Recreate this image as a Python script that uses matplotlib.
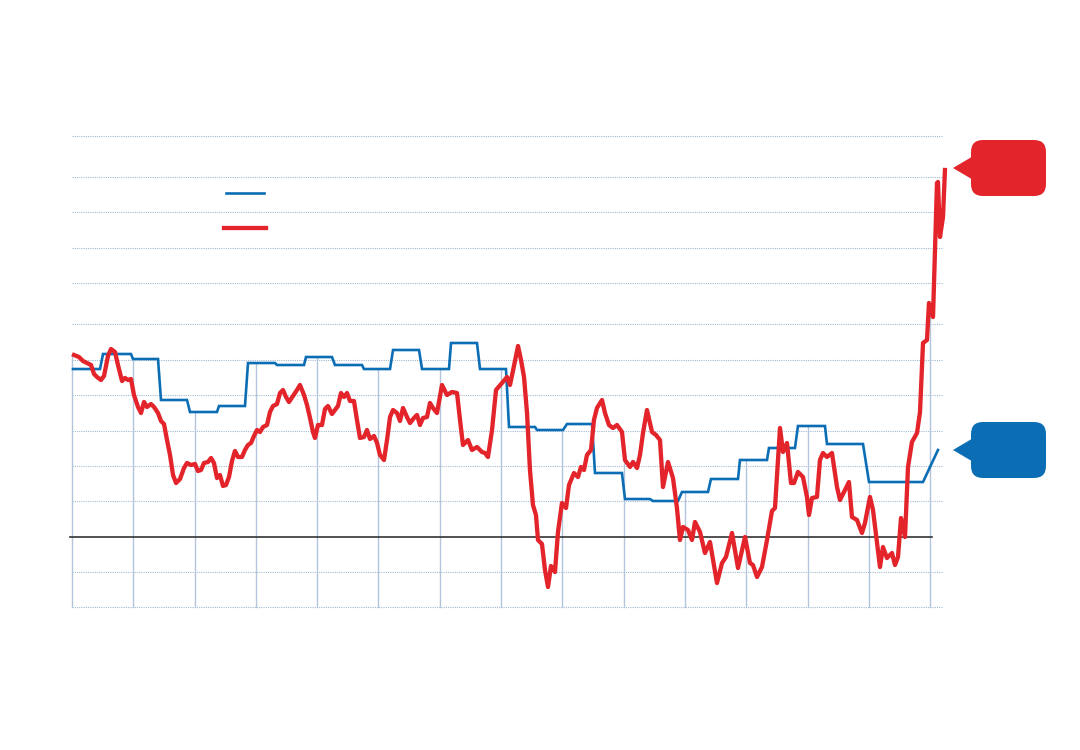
import numpy as np
import matplotlib
matplotlib.use("Agg")
import matplotlib.pyplot as plt
from matplotlib.patches import FancyBboxPatch, Polygon
from matplotlib.transforms import IdentityTransform

####### DATA BLOCK #######

# red series (time in years from start, value)
red_t = [0.033, 0.114, 0.179, 0.245, 0.310, 0.359, 0.408, 0.473, 0.522, 0.587,
         0.636, 0.701, 0.750, 0.816, 0.865, 0.914, 0.962, 1.011, 1.077, 1.126,
         1.175, 1.223, 1.289, 1.338, 1.403, 1.452, 1.501, 1.550, 1.599, 1.648,
         1.697, 1.762, 1.827, 1.876, 1.941, 2.007, 2.055, 2.104, 2.153, 2.219,
         2.268, 2.316, 2.365, 2.414, 2.463, 2.512, 2.561, 2.610, 2.659, 2.708,
         2.773, 2.822, 2.871, 2.920, 2.969, 3.018, 3.067, 3.116, 3.181, 3.230,
         3.279, 3.344, 3.393, 3.442, 3.491, 3.540, 3.605, 3.670, 3.719, 3.785,
         3.834, 3.883, 3.931, 3.964, 4.013, 4.078, 4.127, 4.176, 4.241, 4.290,
         4.339, 4.388, 4.437, 4.486, 4.535, 4.600, 4.649, 4.698, 4.763, 4.812,
         4.861, 4.927, 4.976, 5.024, 5.090, 5.139, 5.188, 5.237, 5.302, 5.351,
         5.400, 5.465, 5.514, 5.579, 5.628, 5.677, 5.726, 5.791, 5.840, 5.889,
         5.954, 6.036, 6.117, 6.199, 6.281, 6.330, 6.378, 6.460, 6.525, 6.607,
         6.688, 6.737, 6.786, 6.852, 6.917, 7.015, 7.096, 7.145, 7.210, 7.276,
         7.325, 7.374, 7.423, 7.471, 7.520, 7.569, 7.602, 7.667, 7.716, 7.765,
         7.814, 7.879, 7.928, 7.993, 8.059, 8.108, 8.189, 8.254, 8.303, 8.352,
         8.401, 8.467, 8.515, 8.564, 8.646, 8.695, 8.760, 8.825, 8.891, 8.972,
         9.021, 9.103, 9.152, 9.217, 9.266, 9.315, 9.380, 9.462, 9.527, 9.592,
         9.641, 9.723, 9.804, 9.869, 9.918, 9.967, 10.049, 10.114, 10.163, 10.245,
         10.326, 10.408, 10.522, 10.604, 10.669, 10.767, 10.865, 10.979, 11.060, 11.109,
         11.175, 11.256, 11.338, 11.419, 11.468, 11.517, 11.550, 11.599, 11.664, 11.729,
         11.778, 11.843, 11.925, 11.990, 12.023, 12.072, 12.153, 12.202, 12.251, 12.316,
         12.398, 12.480, 12.529, 12.610, 12.675, 12.724, 12.806, 12.887, 12.936, 13.018,
         13.067, 13.132, 13.181, 13.230, 13.295, 13.377, 13.426, 13.475, 13.524, 13.589,
         13.638, 13.703, 13.785, 13.834, 13.883, 13.948, 13.980, 14.046, 14.078, 14.111,
         14.127, 14.160, 14.209, 14.241]
red_v = [5.127, 5.070, 4.958, 4.901, 4.845, 4.592, 4.507, 4.423, 4.535, 5.099,
         5.296, 5.211, 4.845, 4.394, 4.479, 4.423, 4.451, 4.000, 3.662, 3.493,
         3.803, 3.662, 3.746, 3.662, 3.493, 3.268, 3.183, 2.732, 2.310, 1.746,
         1.521, 1.634, 1.944, 2.085, 2.028, 2.056, 1.859, 1.887, 2.085, 2.113,
         2.225, 2.085, 1.662, 1.746, 1.437, 1.465, 1.690, 2.141, 2.423, 2.254,
         2.254, 2.451, 2.592, 2.648, 2.845, 3.014, 2.958, 3.099, 3.155, 3.521,
         3.690, 3.746, 4.056, 4.141, 3.944, 3.803, 3.972, 4.141, 4.282, 4.000,
         3.718, 3.352, 2.958, 2.789, 3.155, 3.155, 3.606, 3.690, 3.465, 3.577,
         3.690, 4.056, 3.944, 4.056, 3.831, 3.831, 3.296, 2.789, 2.817, 3.014,
         2.761, 2.845, 2.648, 2.310, 2.169, 2.732, 3.380, 3.577, 3.493, 3.268,
         3.634, 3.380, 3.211, 3.352, 3.437, 3.155, 3.352, 3.380, 3.775, 3.634,
         3.493, 4.282, 4.000, 4.085, 4.056, 3.296, 2.592, 2.732, 2.451, 2.535,
         2.394, 2.366, 2.254, 3.014, 4.141, 4.338, 4.507, 4.282, 4.817, 5.380,
         4.986, 4.507, 3.493, 1.887, 0.901, 0.620, -0.085, -0.197, -0.930, -1.408,
         -0.817, -0.986, 0.141, 0.958, 0.817, 1.465, 1.803, 1.690, 1.972, 1.887,
         2.310, 2.451, 3.296, 3.634, 3.859, 3.493, 3.155, 3.070, 3.155, 2.958,
         2.169, 1.972, 2.113, 1.944, 2.310, 2.930, 3.577, 2.958, 2.873, 2.732,
         1.408, 2.113, 1.662, 0.817, -0.085, 0.282, 0.197, -0.085, 0.423, 0.141,
         -0.451, -0.141, -1.296, -0.732, -0.563, 0.113, -0.873, 0.000, -0.732, -0.789,
         -1.127, -0.845, -0.085, 0.732, 0.817, 2.169, 3.070, 2.394, 2.648, 1.521,
         1.521, 1.831, 1.690, 1.127, 0.620, 1.099, 1.127, 2.169, 2.366, 2.254,
         2.366, 1.408, 1.042, 1.324, 1.549, 0.563, 0.479, 0.113, 0.394, 1.127,
         0.761, -0.169, -0.845, -0.282, -0.592, -0.451, -0.789, -0.563, 0.535, 0.000,
         1.972, 2.676, 2.930, 3.521, 5.465, 5.549, 6.592, 6.197, 8.085, 9.972,
         10.000, 8.451, 9.014, 10.338]

# blue series (stepped rate)
blue_t = [0.016, 0.457, 0.506, 0.962, 0.995, 1.403, 1.452, 1.876, 1.925, 2.365,
          2.398, 2.822, 2.871, 3.312, 3.344, 3.785, 3.817, 4.241, 4.290, 4.731,
          4.763, 5.188, 5.237, 5.661, 5.710, 6.150, 6.183, 6.607, 6.656, 7.080,
          7.129, 7.553, 7.586, 8.010, 8.075, 8.483, 8.532, 8.972, 9.021, 9.429,
          9.478, 9.886, 9.951, 10.375, 10.424, 10.865, 10.897, 11.338, 11.370, 11.794,
          11.843, 12.284, 12.316, 12.904, 13.002, 13.883, 14.127]
blue_v = [4.732, 4.732, 5.155, 5.155, 5.014, 5.014, 3.859, 3.859, 3.521, 3.521,
          3.690, 3.690, 4.901, 4.901, 4.845, 4.845, 5.070, 5.070, 4.845, 4.845,
          4.732, 4.732, 5.268, 5.268, 4.732, 4.732, 5.465, 5.465, 4.732, 4.732,
          3.099, 3.099, 3.014, 3.014, 3.183, 3.183, 1.803, 1.803, 1.070, 1.070,
          1.014, 1.014, 1.268, 1.268, 1.634, 1.634, 2.169, 2.169, 2.507, 2.507,
          3.127, 3.127, 2.620, 2.620, 1.549, 1.549, 2.451]

grid_levels = [-1.972, -0.986, 1.014, 2.0, 2.986, 4.0, 4.986, 6.0,
               7.155, 8.141, 9.155, 10.141, 11.296]
years = list(range(0, 15))

RED = "#e3242b"
BLUE = "#0b6eb5"
GRID = "#a6bad3"

####### PLOT BLOCK #######

fig = plt.figure(figsize=(10.8, 7.5), dpi=100)
ax = fig.add_axes([0, 0, 1, 1])
ax.set_xlim(-1.1746, 16.444)
ax.set_ylim(-6.0, 15.127)
ax.axis("off")

# horizontal dotted grid
for g in grid_levels:
    ax.plot([0, 14.2], [g, g], color=GRID, lw=0.8, ls=(0, (1, 1)), zorder=1)

# vertical year lines, from bottom up to the top series
for yr in years:
    top = max(np.interp(yr, blue_t, blue_v), np.interp(yr, red_t, red_v))
    ax.plot([yr, yr], [grid_levels[0], top], color="#b3c5da", lw=1.0, zorder=1)

# zero line
ax.plot([-0.033, 14.03], [0, 0], color="#333333", lw=1.2, zorder=2)

ax.plot(blue_t, blue_v, color=BLUE, lw=1.9, zorder=3, solid_joinstyle="miter")
ax.plot(red_t, red_v, color=RED, lw=3.1, zorder=4)

# legend swatches (no text)
ax.plot([2.512, 3.132], [9.69, 9.69], color=BLUE, lw=1.9)
ax.plot([2.48, 3.165], [8.70, 8.70], color=RED, lw=3.1)


def callout(y_px, color):
    # rounded box with a pointer, drawn in pixels
    box = FancyBboxPatch((971, y_px - 28), 75, 56,
                         boxstyle="round,pad=0,rounding_size=12",
                         transform=IdentityTransform(), facecolor=color,
                         edgecolor="none", zorder=5)
    fig.patches.append(box)
    tip = Polygon([(953, y_px), (975, y_px + 13), (975, y_px - 13)],
                  closed=True, transform=IdentityTransform(),
                  facecolor=color, edgecolor="none", zorder=5)
    fig.patches.append(tip)


fig.canvas.draw()
red_end = ax.transData.transform((red_t[-1], red_v[-1]))[1]
blue_end = ax.transData.transform((blue_t[-1], blue_v[-1]))[1]
callout(red_end + 2, RED)
callout(blue_end, BLUE)

fig.savefig("out.png", dpi=100, facecolor="white")
